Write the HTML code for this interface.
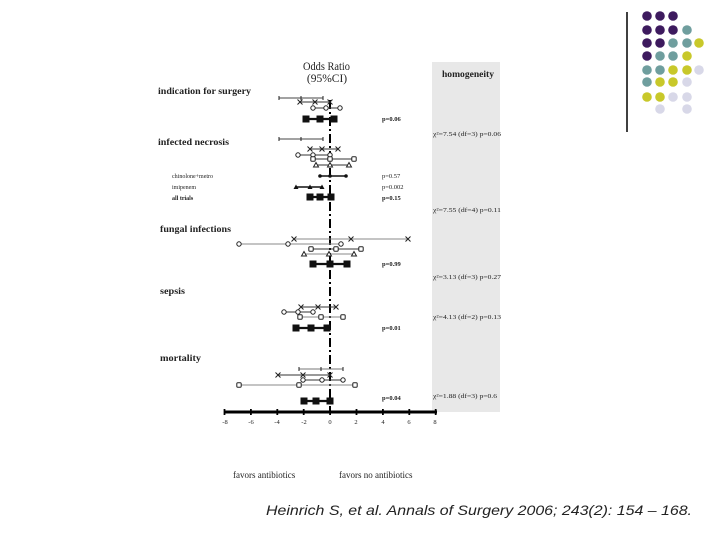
<!DOCTYPE html>
<html><head><meta charset="utf-8"><style>
html,body{margin:0;padding:0;background:#fff;}
svg{display:block}
.t{font-family:"Liberation Serif",serif;fill:#222}
.b{font-weight:bold}
</style></head><body>
<svg id="s" width="720" height="540" viewBox="0 0 720 540" xmlns="http://www.w3.org/2000/svg">
<rect x="0" y="0" width="720" height="540" fill="#fff"/>
<line x1="627" y1="12" x2="627" y2="132" stroke="#000" stroke-width="1.5"/>
<g id="dots"></g>
<rect x="432" y="62" width="68" height="350" fill="#e8e8e8"/>
<text class="t b" x="442" y="77" font-size="9" textLength="52" lengthAdjust="spacingAndGlyphs">homogeneity</text>
<g class="t" font-size="6.5">
<text x="433" y="136" textLength="68" lengthAdjust="spacingAndGlyphs">χ²=7.54 (df=3) p=0.06</text>
<text x="433" y="212" textLength="68" lengthAdjust="spacingAndGlyphs">χ²=7.55 (df=4) p=0.11</text>
<text x="433" y="279" textLength="68" lengthAdjust="spacingAndGlyphs">χ²=3.13 (df=3) p=0.27</text>
<text x="433" y="319" textLength="68" lengthAdjust="spacingAndGlyphs">χ²=4.13 (df=2) p=0.13</text>
<text x="433" y="398" textLength="64" lengthAdjust="spacingAndGlyphs">χ²=1.88 (df=3) p=0.6</text>
</g>
<text class="t" x="303" y="70" font-size="11.5" fill="#555" textLength="47" lengthAdjust="spacingAndGlyphs">Odds Ratio</text>
<text class="t" x="327" y="82" font-size="11.5" text-anchor="middle" fill="#555">(95%CI)</text>
<g class="t b" font-size="9.5">
<text x="158" y="94" textLength="93" lengthAdjust="spacingAndGlyphs">indication for surgery</text>
<text x="158" y="145" textLength="71" lengthAdjust="spacingAndGlyphs">infected necrosis</text>
<text x="160" y="232" textLength="71" lengthAdjust="spacingAndGlyphs">fungal infections</text>
<text x="160" y="294" textLength="25" lengthAdjust="spacingAndGlyphs">sepsis</text>
<text x="160" y="361" textLength="41" lengthAdjust="spacingAndGlyphs">mortality</text>
</g>
<g class="t" font-size="6">
<text x="172" y="178">chinolone+metro</text>
<text x="172" y="189">imipenem</text>
<text x="172" y="200" class="b">all trials</text>
</g>
<g class="t b" font-size="6.5">
<text x="382" y="121">p=0.06</text>
<text x="382" y="178" font-weight="normal">p=0.57</text>
<text x="382" y="189" font-weight="normal">p=0.002</text>
<text x="382" y="200">p=0.15</text>
<text x="382" y="266">p=0.99</text>
<text x="382" y="330">p=0.01</text>
<text x="382" y="400">p=0.04</text>
</g>
<line x1="330" y1="100" x2="330" y2="412" stroke="#000" stroke-width="2" stroke-dasharray="9,3,2,3"/>
<g id="rows"></g>
<line x1="224" y1="412" x2="437" y2="412" stroke="#000" stroke-width="3"/>
<g id="ticks"></g>
<g class="t" font-size="6.5" text-anchor="middle" fill="#444" font-family="Liberation Sans, sans-serif">
<text x="225" y="424">-8</text><text x="251" y="424">-6</text><text x="277" y="424">-4</text><text x="304" y="424">-2</text><text x="330" y="424">0</text><text x="356" y="424">2</text><text x="383" y="424">4</text><text x="409" y="424">6</text><text x="435" y="424">8</text>
</g>
<text class="t" x="233" y="478" font-size="9">favors antibiotics</text>
<text class="t" x="339" y="478" font-size="9">favors no antibiotics</text>
<text x="266" y="515" font-size="14" font-style="italic" font-family="Liberation Sans, sans-serif" fill="#222" textLength="426" lengthAdjust="spacingAndGlyphs">Heinrich S, et al. Annals of Surgery 2006; 243(2): 154 – 168.</text>
</svg>
<script>
var NS="http://www.w3.org/2000/svg";
function el(p,n,a){var e=document.createElementNS(NS,n);for(var k in a)e.setAttribute(k,a[k]);document.getElementById(p).appendChild(e);return e;}
var P="#3d1a5e",T="#6f9e9e",Y="#c8c82a",L="#d8d8e8",_=null;
var grid=[[P,P,P],[P,P,P,T],[P,P,T,T,Y],[P,T,T,Y],[T,T,Y,Y,L],[T,Y,Y,L],[Y,Y,L,L],[_,L,_,L]];
var cx=[647,660,673,687,699],cy=[16,30,43,56,70,82,97,109];
grid.forEach(function(r,i){r.forEach(function(c,j){if(c)el("dots","circle",{cx:cx[j],cy:cy[i],r:4.8,fill:c});});});
for(var i=0;i<9;i++){var x=224.5+i*26.4;el("ticks","line",{x1:x,y1:409,x2:x,y2:415,stroke:"#000","stroke-width":1.8});}
function row(y,xs,m,col,w){
  el("rows","line",{x1:xs[0],y1:y,x2:xs[2],y2:y,stroke:col,"stroke-width":w||1});
  xs.forEach(function(x){
    if(m=="x"){el("rows","path",{d:"M"+(x-2.5)+" "+(y-2.5)+"L"+(x+2.5)+" "+(y+2.5)+"M"+(x-2.5)+" "+(y+2.5)+"L"+(x+2.5)+" "+(y-2.5),stroke:"#222","stroke-width":1});}
    else if(m=="o"){el("rows","circle",{cx:x,cy:y,r:2.2,fill:"#fff",stroke:"#222","stroke-width":1});}
    else if(m=="q"){el("rows","rect",{x:x-2.2,y:y-2.2,width:4.4,height:4.4,rx:1,fill:"#fff",stroke:"#222","stroke-width":1});}
    else if(m=="tr"){el("rows","path",{d:"M"+x+" "+(y-2.5)+"L"+(x+2.5)+" "+(y+2)+"L"+(x-2.5)+" "+(y+2)+"Z",fill:"#fff",stroke:"#222","stroke-width":1});}
    else if(m=="TR"){el("rows","path",{d:"M"+x+" "+(y-2.5)+"L"+(x+2.5)+" "+(y+2)+"L"+(x-2.5)+" "+(y+2)+"Z",fill:"#111"});}
    else if(m=="d"){el("rows","circle",{cx:x,cy:y,r:1.8,fill:"#111"});}
    else if(m=="S"){el("rows","rect",{x:x-3.5,y:y-3.5,width:7,height:7,fill:"#111"});}
    else if(m=="|"){el("rows","line",{x1:x,y1:y-2,x2:x,y2:y+2,stroke:"#222","stroke-width":1});}
  });
}
row(98,[279,301,323],"|","#444");
row(102,[300,315,330],"x","#333");
row(108,[313,326,340],"o","#333");
row(119,[306,320,334],"S","#111",2.2);
row(139,[279,301,323],"|","#444");
row(149,[310,322,338],"x","#333");
row(155,[298,313,330],"o","#333");
row(159,[313,330,354],"q","#333");
row(165,[316,330,349],"tr","#333");
row(176,[320,330,346],"d","#111",1.5);
row(187,[296,310,322],"TR","#111",1.5);
row(197,[310,320,331],"S","#111",2.2);
row(239,[294,351,408],"x","#888");
row(244,[239,288,341],"o","#888");
row(249,[311,336,361],"q","#333");
row(254,[304,329,354],"tr","#888");
row(264,[313,330,347],"S","#111",2.2);
row(307,[301,318,336],"x","#333");
row(312,[284,298,313],"o","#333");
row(317,[300,321,343],"q","#888");
row(328,[296,311,327],"S","#111",2.2);
row(369,[299,321,343],"|","#777");
row(375,[278,303,330],"x","#333");
row(380,[303,322,343],"o","#333");
row(385,[239,299,355],"q","#888");
row(401,[304,316,330],"S","#111",2.2);
</script>
</body></html>
